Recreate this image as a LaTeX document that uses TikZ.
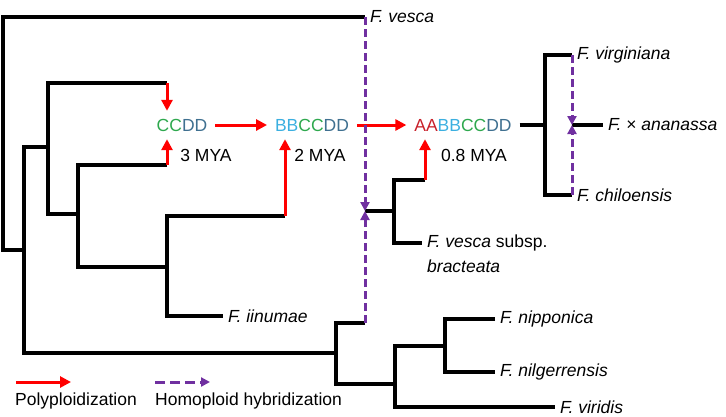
\documentclass[tikz,border=0pt]{standalone}
\usepackage{fontspec}
\setmainfont{Liberation Sans}
\usetikzlibrary{arrows.meta,positioning}
\definecolor{polyred}{HTML}{FF0000}
\definecolor{hybpurple}{HTML}{7030A0}
\definecolor{gA}{HTML}{C8202A}
\definecolor{gB}{HTML}{3BAFE0}
\definecolor{gC}{HTML}{2EA84E}
\definecolor{gD}{HTML}{3F7090}
\tikzset{
  branch/.style={line width=3.4pt, line join=miter},
  poly/.style={line width=3pt, polyred, -{Triangle[length=11pt,width=11pt]}},
  hyb/.style={line width=3pt, hybpurple, dash pattern=on 8pt off 4pt, -{Triangle[length=9pt,width=9pt]}},
  taxon/.style={anchor=west, inner sep=5pt, font=\fontsize{17.5}{20}\selectfont\itshape},
  genome/.style={inner sep=0pt, outer sep=8pt, font=\fontsize{17.5}{20}\selectfont},
  age/.style={inner sep=0pt, font=\fontsize{17.5}{20}\selectfont},
  legend/.style={anchor=west, inner sep=0pt, font=\fontsize{17.5}{20}\selectfont}
}
\begin{document}
\begin{tikzpicture}[x=1pt,y=-1pt]
  \useasboundingbox (0,0) rectangle (726,416);
  % internal nodes of the tree
  \coordinate (n0) at (3,250);
  \coordinate (n1) at (24,250);
  \coordinate (n2) at (48,147);
  \coordinate (n3) at (78,214);
  \coordinate (n4) at (167,267);
  \coordinate (n5) at (394,211);
  \coordinate (n7) at (336,353);
  \coordinate (n8) at (395,384);
  \coordinate (n9) at (445,346);
  \coordinate (n10) at (545,125);
  % where the branches end in arrows
  \coordinate (a1) at (167,83);
  \coordinate (a2) at (167,165);
  \coordinate (a3) at (285,216);
  \coordinate (a4) at (425,180);
  \coordinate (h1) at (365,211);
  \coordinate (h2) at (365,323);
  \coordinate (h3) at (572,125);
  % taxa
  \node[taxon] (vesca) at (365,17) {F. vesca};
  \node[taxon] (virginiana) at (572,55) {F. virginiana};
  \node[taxon] (chiloensis) at (572,195) {F. chiloensis};
  \node[taxon] (ananassa) at (603,125) {F.\ \upshape×\ \itshape ananassa};
  \node[taxon] (bract) at (422,243) {F. vesca \upshape subsp.};
  \node[taxon] (bract2) at (422,266) {bracteata};
  \node[taxon] (iinumae) at (223,316) {F. iinumae};
  \node[taxon] (nipponica) at (495,319) {F. nipponica};
  \node[taxon] (nilgerrensis) at (495,372) {F. nilgerrensis};
  \node[taxon] (viridis) at (555,407) {F. viridis};
  % genomes
  \node[genome] (ccdd) at (182,125) {\textcolor{gC}{CC}\textcolor{gD}{DD}};
  \node[genome] (bbccdd) at (312,125) {\textcolor{gB}{BB}\textcolor{gC}{CC}\textcolor{gD}{DD}};
  \node[genome] (aabbccdd) at (463,125) {\textcolor{gA}{AA}\textcolor{gB}{BB}\textcolor{gC}{CC}\textcolor{gD}{DD}};
  \node[age] (mya3) at (206,155) {3 MYA};
  \node[age] (mya2) at (320,155) {2 MYA};
  \node[age] (mya08) at (474,155) {0.8 MYA};
  % branches
  \draw[branch] (vesca.west) -| (n0) -- (n1);
  \draw[branch] (n2) -| (n1) |- (n7);
  \draw[branch] (a1) -| (n2) |- (n3);
  \draw[branch] (a2) -| (n3) |- (n4);
  \draw[branch] (a3) -| (n4) |- (iinumae.west);
  \draw[branch] (h2) -| (n7) |- (n8);
  \draw[branch] (n9) -| (n8) |- (viridis.west);
  \draw[branch] (nipponica.west) -| (n9) |- (nilgerrensis.west);
  \draw[branch] (h1) -- (n5);
  \draw[branch] (a4) -| (n5) |- (bract.west);
  \draw[branch] (aabbccdd.east) -- (n10);
  \draw[branch] (virginiana.west) -| (n10) |- (chiloensis.west);
  \draw[branch] (h3) -- (ananassa.west);
  % polyploidization
  \draw[poly] (a1) -- (a1 |- ccdd.north);
  \draw[poly] (a2) -- (a2 |- ccdd.south);
  \draw[poly] (a3) -- (a3 |- bbccdd.south);
  \draw[poly] (a4) -- (a4 |- aabbccdd.south);
  \draw[poly] (ccdd) -- (bbccdd);
  \draw[poly] (bbccdd) -- (aabbccdd);
  % homoploid hybridization
  \draw[hyb] (vesca.west) -- (h1);
  \draw[hyb] (h2) -- (h1);
  \draw[hyb] (virginiana.west) -- (h3);
  \draw[hyb] (chiloensis.west) -- (h3);
  % legend
  \coordinate (lp) at (16,382);
  \coordinate (lh) at (155,382);
  \draw[poly] (lp) -- ++(55,0);
  \draw[hyb, dash pattern=on 10pt off 5pt] (lh) -- ++(55,0);
  \node[legend] (polylab) at (15,401) {Polyploidization};
  \node[legend] (hyblab) at (155,401) {Homoploid hybridization};
\end{tikzpicture}
\end{document}
